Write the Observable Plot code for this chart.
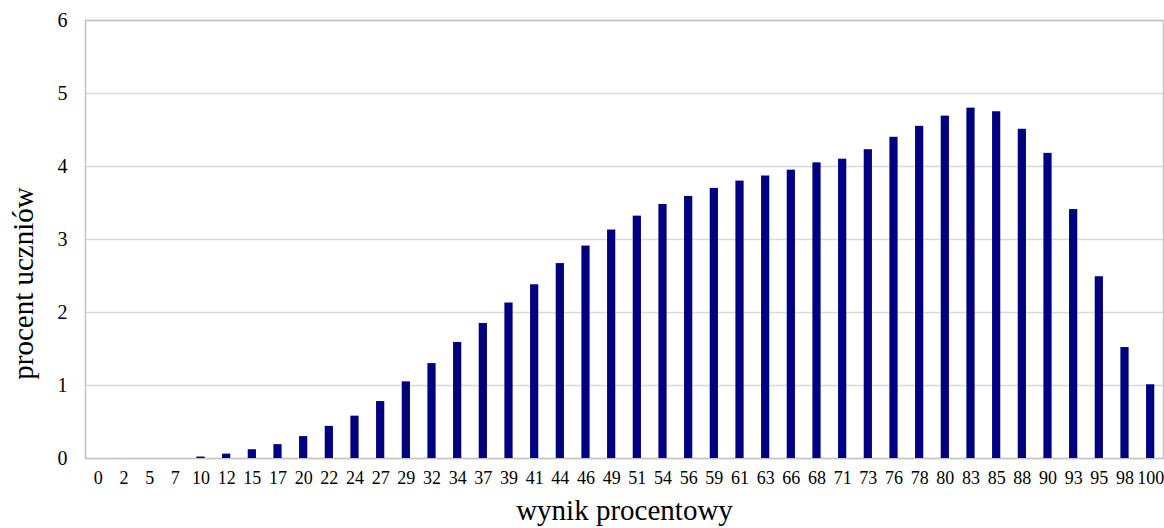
<!DOCTYPE html>
<html>
<head>
<meta charset="utf-8">
<script src="https://cdn.jsdelivr.net/npm/d3@7"></script>
<script src="https://cdn.jsdelivr.net/npm/@observablehq/plot@0.6"></script>
<style>
  html, body { margin: 0; padding: 0; background: #fff; }
  #chart svg, #chart svg text { font-family: "Liberation Serif", "Times New Roman", serif !important; }
</style>
</head>
<body>
<div id="chart"></div>
<script>
const categories = ["0","2","5","7","10","12","15","17","20","22","24","27","29","32","34","37","39","41","44","46","49","51","54","56","59","61","63","66","68","71","73","76","78","80","83","85","88","90","93","95","98","100"];
const values = [0,0,0,0,0.02,0.06,0.12,0.19,0.30,0.44,0.58,0.78,1.05,1.30,1.59,1.85,2.13,2.38,2.67,2.91,3.13,3.32,3.48,3.59,3.70,3.80,3.87,3.95,4.05,4.10,4.23,4.40,4.55,4.69,4.80,4.75,4.51,4.18,3.41,2.49,1.52,1.01];
const yTicks = [0,1,2,3,4,5,6];
const xTitle = "wynik procentowy";
const yTitle = "procent uczniów";

const data = categories.map((c, i) => ({score: c, pct: values[i]}));
const serif = "Liberation Serif, Times New Roman, serif";

const chart = Plot.plot({
  width: 1164,
  height: 528,
  marginLeft: 85,
  marginRight: 1,
  marginTop: 20,
  marginBottom: 70,
  style: {fontFamily: serif, color: "#000", background: "#fff"},
  x: {domain: categories, paddingInner: 0.68, paddingOuter: 0.34, round: false},
  y: {domain: [0, 6]},
  marks: [
    Plot.gridY(yTicks, {stroke: "#d9d9d9", strokeOpacity: 1, strokeWidth: 1.5}),
    Plot.frame({stroke: "#c4c4c4", strokeWidth: 1.5}),
    Plot.barY(data, {x: "score", y: "pct", fill: "#000080"}),
    Plot.axisY(yTicks, {tickSize: 0, tickPadding: 18, fontSize: 20, fontFamily: serif, tickFormat: d3.format("d"), label: null}),
    Plot.axisX({tickSize: 0, tickPadding: 13, fontSize: 18, fontFamily: serif, label: null}),
    Plot.text([xTitle], {frameAnchor: "bottom", lineAnchor: "middle", textAnchor: "middle", dy: 52, fontSize: 29, fontFamily: serif, fill: "#000"}),
    Plot.text([yTitle], {frameAnchor: "left", lineAnchor: "middle", textAnchor: "middle", rotate: -90, dx: -62, dy: 44, fontSize: 29, fontFamily: serif, fill: "#000"})
  ]
});
document.getElementById("chart").appendChild(chart);
</script>
</body>
</html>
